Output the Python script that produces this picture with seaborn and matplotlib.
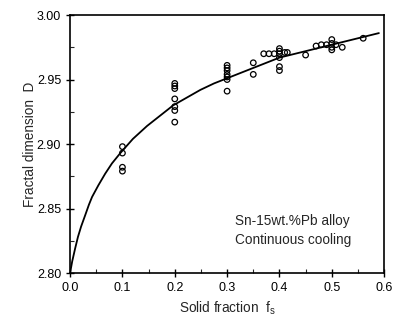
import matplotlib
matplotlib.use("Agg")
import matplotlib.pyplot as plt
from matplotlib.ticker import MultipleLocator
import pandas as pd
import seaborn as sns

# measured points (solid fraction, fractal dimension)
fs_points = [0.10, 0.10, 0.10, 0.10,
             0.20, 0.20, 0.20, 0.20, 0.20, 0.20, 0.20,
             0.30, 0.30, 0.30, 0.30, 0.30, 0.30, 0.30,
             0.35, 0.35,
             0.37, 0.38, 0.39, 0.40, 0.40, 0.40, 0.41, 0.415, 0.40, 0.40, 0.40,
             0.45, 0.47, 0.48, 0.49, 0.50, 0.50, 0.50, 0.50, 0.508, 0.52, 0.56]
d_points = [2.898, 2.893, 2.882, 2.879,
            2.947, 2.945, 2.943, 2.935, 2.929, 2.926, 2.917,
            2.961, 2.959, 2.957, 2.954, 2.952, 2.950, 2.941,
            2.963, 2.954,
            2.970, 2.970, 2.970, 2.974, 2.972, 2.970, 2.971, 2.971, 2.967, 2.960, 2.957,
            2.969, 2.976, 2.977, 2.977, 2.981, 2.978, 2.975, 2.973, 2.977, 2.975, 2.982]

# fitted curve
fs_curve = [0.0, 0.004, 0.0096, 0.015, 0.021, 0.029, 0.036, 0.042, 0.054, 0.067,
            0.080, 0.096, 0.12, 0.147, 0.172, 0.197, 0.223, 0.249, 0.275, 0.30,
            0.35, 0.40, 0.45, 0.50, 0.55, 0.59]
d_curve = [2.800, 2.809, 2.819, 2.828, 2.836, 2.845, 2.853, 2.859, 2.868, 2.877,
           2.885, 2.893, 2.904, 2.914, 2.922, 2.930, 2.936, 2.942, 2.947, 2.951,
           2.959, 2.967, 2.972, 2.977, 2.982, 2.986]

pts = pd.DataFrame({"fs": fs_points, "D": d_points})
curve = pd.DataFrame({"fs": fs_curve, "D": d_curve})

sns.set_style("ticks")
plt.rcParams["font.family"] = ["Liberation Sans", "DejaVu Sans"]

fig = plt.figure(figsize=(3.96, 3.27), dpi=100)
ax = fig.add_axes([0.177, 0.165, 0.793, 0.789])

sns.lineplot(data=curve, x="fs", y="D", color="black", linewidth=1.3, ax=ax)
sns.scatterplot(data=pts, x="fs", y="D", marker="o", s=16, facecolor="none",
                edgecolor="black", linewidth=0.9, ax=ax)

ax.set_xlim(0.0, 0.6)
ax.set_ylim(2.80, 3.00)
ax.xaxis.set_major_locator(MultipleLocator(0.1))
ax.xaxis.set_minor_locator(MultipleLocator(0.05))
ax.yaxis.set_major_locator(MultipleLocator(0.05))
ax.yaxis.set_minor_locator(MultipleLocator(0.025))
ax.set_xticklabels([f"{v:.1f}" for v in ax.get_xticks()])
ax.set_yticklabels([f"{v:.2f}" for v in ax.get_yticks()])
ax.tick_params(axis="both", which="major", direction="inout", length=6, width=1,
               labelsize=9, colors="black")
ax.tick_params(axis="both", which="minor", direction="in", length=3, width=0.8)
for sp in ax.spines.values():
    sp.set_visible(True)
    sp.set_linewidth(1.2)
    sp.set_color("black")

ax.set_xlabel("Solid fraction  $\\mathregular{f_s}$", fontsize=9.8, labelpad=4)
ax.set_ylabel("Fractal dimension  D", fontsize=9.8, labelpad=0)

ax.text(0.316, 2.840, "Sn-15wt.%Pb alloy", fontsize=9.8, va="center")
ax.text(0.316, 2.826, "Continuous cooling", fontsize=9.8, va="center")

fig.savefig("out.png", dpi=100)
